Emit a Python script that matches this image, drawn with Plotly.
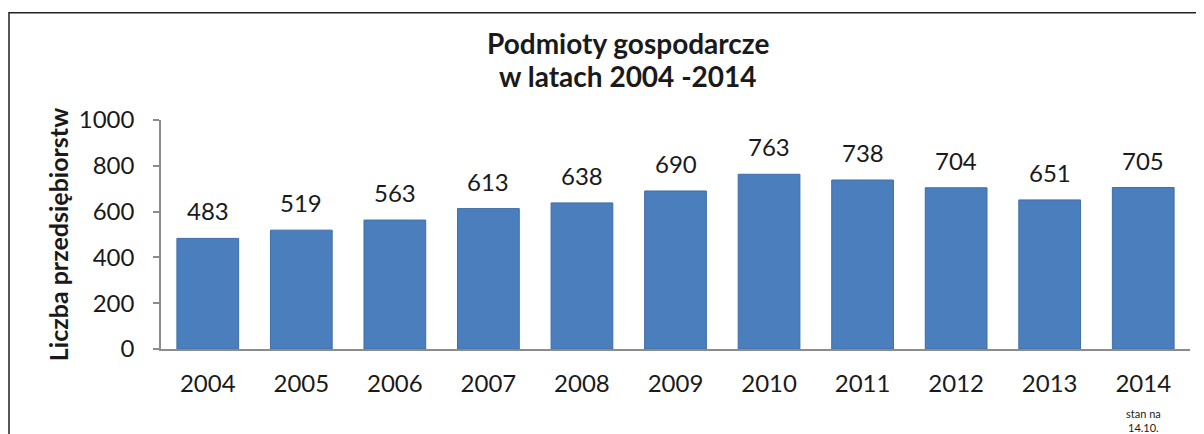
import plotly.graph_objects as go

years = ["2004", "2005", "2006", "2007", "2008", "2009", "2010", "2011", "2012", "2013", "2014"]
counts = [483, 519, 563, 613, 638, 690, 763, 738, 704, 651, 705]
y_ticks = [0, 200, 400, 600, 800, 1000]
note = "stan na<br>14.10."

W, H = 1204, 434
OFF = 8  # page body offset
# target positions in screenshot pixels
AX_L, AX_R, AX_T, AX_B = 161, 1190, 120, 349.5
ML = AX_L - OFF
MT = AX_T - OFF
MR = W - (AX_R - OFF)
MB = H - (AX_B - OFF)
PW, PH = W - ML - MR, H - MT - MB

def px_x(p):
    return (p - OFF - ML) / PW

def px_y(p):
    return (H - MB - (p - OFF)) / PH

FONT = "Lato"
TXT = "#1a1a1a"

fig = go.Figure()
fig.add_trace(go.Bar(
    x=list(range(len(years))), y=counts,
    marker=dict(color="#4A7EBD", line=dict(color="#3F6EA8", width=1)),
    hovertext=years, hoverinfo="text+y",
))

annotations = []
for i, v in enumerate(counts):
    annotations.append(dict(x=i, y=v, xref="x", yref="y", text=str(v),
                            showarrow=False, yanchor="bottom", yshift=11,
                            font=dict(family=FONT, size=24, color=TXT)))
annotations.append(dict(x=len(years) - 1, y=px_y(421), xref="x", yref="paper",
                        text=note, showarrow=False,
                        yanchor="middle", align="center",
                        font=dict(family=FONT, size=11, color=TXT)))
annotations.append(dict(x=px_x(628), y=px_y(43), xref="paper", yref="paper",
                        text="<b>Podmioty gospodarcze</b>", showarrow=False,
                        xanchor="center", yanchor="middle",
                        font=dict(family=FONT, size=28, color=TXT)))
annotations.append(dict(x=px_x(628), y=px_y(76), xref="paper", yref="paper",
                        text="<b>w latach 2004 -2014</b>", showarrow=False,
                        xanchor="center", yanchor="middle",
                        font=dict(family=FONT, size=28, color=TXT)))

fig.update_layout(
    width=W, height=H,
    margin=dict(l=ML, r=MR, t=MT, b=MB),
    paper_bgcolor="white", plot_bgcolor="white",
    bargap=0.34,
    showlegend=False,
    annotations=annotations,
    shapes=[dict(type="rect", xref="paper", yref="paper",
                 x0=px_x(OFF + 1), x1=px_x(1202), y0=px_y(480), y1=px_y(12.5),
                 line=dict(color="#222222", width=1.5), fillcolor="rgba(0,0,0,0)",
                 layer="below")],
    font=dict(family=FONT, color=TXT),
)

fig.update_xaxes(
    range=[-0.5, len(years) - 0.5],
    tickvals=list(range(len(years))), ticktext=years,
    showline=True, linecolor="#8c8c8c", linewidth=1.5,
    ticks="", showgrid=False, zeroline=False,
    tickfont=dict(family=FONT, size=24, color=TXT),
    ticklabelstandoff=12,
)
fig.update_yaxes(
    range=[0, 1000], tickvals=y_ticks,
    showline=True, linecolor="#8c8c8c", linewidth=1.5,
    ticks="outside", ticklen=6, tickcolor="#8c8c8c", tickwidth=1.5,
    showgrid=False, zeroline=False,
    tickfont=dict(family=FONT, size=24, color=TXT),
    ticklabelstandoff=14,
    title=dict(text="<b>Liczba przedsiębiorstw</b>", standoff=3,
               font=dict(family=FONT, size=25, color=TXT)),
)

fig.write_html("out.html")
